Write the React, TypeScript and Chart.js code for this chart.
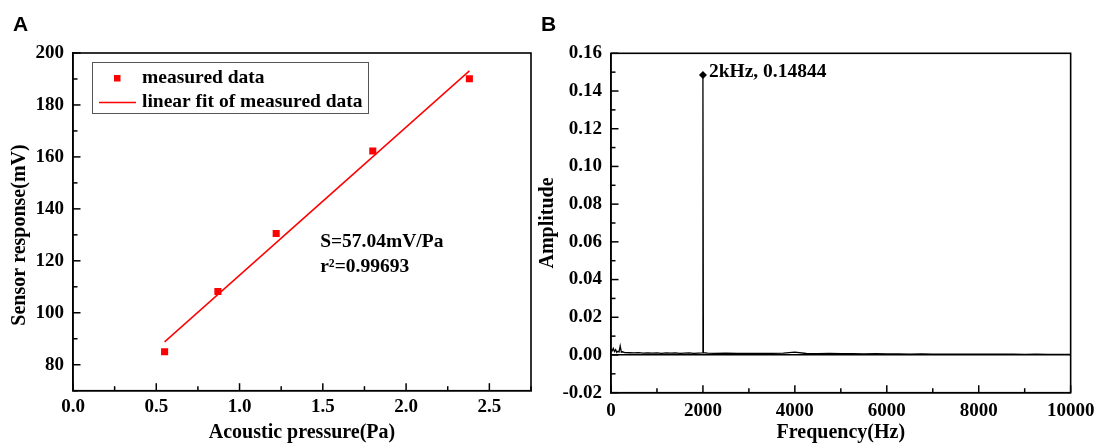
import React, { useEffect, useRef } from "react";
import { Chart, registerables } from "chart.js";

Chart.register(...registerables);

// ---------- Panel A data ----------
const pressurePa = [0.55, 0.87, 1.22, 1.8, 2.38];
const responseMv = [85.0, 108.2, 130.5, 162.3, 190.1];
const fitPressurePa = [0.55, 2.38];
const fitResponseMv = [88.8, 193.1];
const pressureTickLabels = [0, 0.5, 1.0, 1.5, 2.0, 2.5];
const responseTickLabels = [80, 100, 120, 140, 160, 180, 200];
const sensitivityText = "S=57.04mV/Pa";
const r2Text = "r²=0.99693";

// ---------- Panel B data ----------
const freqHz = [
  0, 25, 50, 75, 100, 125, 150, 175, 200, 225, 250,
  300, 400, 500, 600, 700, 800, 900, 1000, 1100, 1200, 1300, 1400, 1500, 1600, 1700, 1800, 1900,
  1990, 2000, 2010, 2100,
  2250, 2500, 2750, 3000, 3250, 3500, 3750, 4000,
  4250, 4500, 4750, 5000, 5250, 5500, 5750, 6000,
  6250, 6500, 6750, 7000, 7250, 7500, 7750, 8000,
  8250, 8500, 8750, 9000, 9250, 9500, 9750, 10000,
];
const amplitude = [
  0.003, 0.0022, 0.0035, 0.0018, 0.0028, 0.0014, 0.002, 0.0016, 0.0048, 0.0015, 0.0017,
  0.0013, 0.0012, 0.0011, 0.0012, 0.001, 0.0011, 0.001, 0.0011, 0.0009, 0.0011, 0.001, 0.0011, 0.0009, 0.001, 0.0011, 0.0009, 0.001,
  0.0011, 0.14844, 0.0012, 0.001,
  0.0009, 0.001, 0.0008, 0.0009, 0.0008, 0.0009, 0.001, 0.0015,
  0.0008, 0.0007, 0.0008, 0.0007, 0.0007, 0.0006, 0.0007, 0.0006,
  0.0006, 0.0005, 0.0006, 0.0005, 0.0005, 0.0005, 0.0004, 0.0005,
  0.0004, 0.0004, 0.0004, 0.0003, 0.0004, 0.0003, 0.0003, 0.0003,
];
const peakFreqHz = [2000];
const peakAmplitude = [0.14844];
const peakLabel = "2kHz, 0.14844";
const freqTickLabels = [0, 2000, 4000, 6000, 8000, 10000];
const ampTickLabels = [-0.02, 0, 0.02, 0.04, 0.06, 0.08, 0.1, 0.12, 0.14, 0.16];

const SERIF = "'Liberation Serif', 'Times New Roman', serif";
const SANS = "'Liberation Sans', Arial, sans-serif";
const tickFont = { family: SERIF, size: 19, weight: "bold" as const };
const titleFont = { family: SERIF, size: 20, weight: "bold" as const };

function tickCb(majors: number[], digits: number) {
  return (value: any) => {
    const v = Number(value);
    return majors.some((m) => Math.abs(m - v) < 1e-9) ? v.toFixed(digits) : "";
  };
}

const framePlugin = {
  id: "frame",
  afterDatasetsDraw(chart: any) {
    const { ctx, chartArea: a } = chart;
    ctx.save();
    ctx.strokeStyle = "#000";
    ctx.lineWidth = 1.6;
    ctx.strokeRect(a.left, a.top, a.right - a.left, a.bottom - a.top);
    // inward tick marks: long for labelled ticks, short for the others
    ctx.lineWidth = 1.5;
    const xs = chart.scales.x;
    const ys = chart.scales.y;
    xs.ticks.forEach((t: any) => {
      const len = t.label !== "" ? 7.5 : 4.5;
      const px = xs.getPixelForValue(t.value);
      ctx.beginPath();
      ctx.moveTo(px, a.bottom);
      ctx.lineTo(px, a.bottom - len);
      ctx.stroke();
    });
    ys.ticks.forEach((t: any) => {
      const len = t.label !== "" ? 7.5 : 4.5;
      const py = ys.getPixelForValue(t.value);
      ctx.beginPath();
      ctx.moveTo(a.left, py);
      ctx.lineTo(a.left + len, py);
      ctx.stroke();
    });
    ctx.restore();
  },
};

function panelLetter(letter: string, x: number) {
  return {
    id: "panelLetter" + letter,
    afterDraw(chart: any) {
      const ctx = chart.ctx;
      ctx.save();
      ctx.fillStyle = "#000";
      ctx.font = `bold 21px ${SANS}`;
      ctx.textBaseline = "alphabetic";
      ctx.textAlign = "left";
      ctx.fillText(letter, x, 31);
      ctx.restore();
    },
  };
}

const legendAPlugin = {
  id: "legendA",
  afterDraw(chart: any) {
    const ctx = chart.ctx;
    const ds = chart.data.datasets;
    ctx.save();
    ctx.strokeStyle = "#555";
    ctx.lineWidth = 1;
    ctx.strokeRect(92.5, 62.5, 276, 51);
    ctx.fillStyle = "#ff0000";
    ctx.fillRect(114, 75, 6.5, 6.5);
    ctx.strokeStyle = "#ff0000";
    ctx.lineWidth = 1.5;
    ctx.beginPath();
    ctx.moveTo(99, 102.5);
    ctx.lineTo(136, 102.5);
    ctx.stroke();
    ctx.fillStyle = "#000";
    ctx.font = `bold 19.5px ${SERIF}`;
    ctx.textBaseline = "middle";
    ctx.fillText(ds[0].label, 142, 78);
    ctx.fillText(ds[1].label, 142, 102);
    ctx.restore();
  },
};

const annotationAPlugin = {
  id: "annotA",
  afterDraw(chart: any) {
    const ctx = chart.ctx;
    const xs = chart.scales.x;
    const ys = chart.scales.y;
    const x = xs.getPixelForValue(1.484);
    ctx.save();
    ctx.fillStyle = "#000";
    ctx.font = `bold 19.5px ${SERIF}`;
    ctx.textBaseline = "middle";
    ctx.fillText(sensitivityText, x, ys.getPixelForValue(127.4));
    ctx.fillText(r2Text, x, ys.getPixelForValue(117.8));
    // y-axis title, placed as in the original figure
    ctx.translate(19.5, 235);
    ctx.rotate(-Math.PI / 2);
    ctx.textAlign = "center";
    ctx.font = `bold 20px ${SERIF}`;
    ctx.fillText("Sensor response(mV)", 0, 0);
    ctx.restore();
  },
};

const peakLabelPlugin = {
  id: "peakLabel",
  afterDraw(chart: any) {
    const ctx = chart.ctx;
    const x = chart.scales.x.getPixelForValue(peakFreqHz[0]);
    const y = chart.scales.y.getPixelForValue(peakAmplitude[0]);
    ctx.save();
    ctx.fillStyle = "#000";
    ctx.font = `bold 19.5px ${SERIF}`;
    ctx.textBaseline = "middle";
    ctx.fillText(peakLabel, x + 6, y - 3.5);
    ctx.restore();
  },
};

function baseX(min: number, max: number, step: number, majors: number[], digits: number, title: string, height: number, pad: number) {
  return {
    type: "linear" as const,
    min,
    max,
    ticks: {
      stepSize: step,
      autoSkip: false,
      maxRotation: 0,
      padding: pad,
      color: "#000",
      font: tickFont,
      callback: tickCb(majors, digits),
    },
    grid: { drawOnChartArea: false, drawTicks: false },
    border: { display: true, color: "#000", width: 1.5 },
    title: { display: true, text: title, color: "#000", font: titleFont, padding: { top: 0, bottom: 1 } },
    afterFit: (s: any) => {
      s.height = height;
    },
  };
}

function baseY(min: number, max: number, step: number, majors: number[], digits: number, title: string, width: number, titlePad: number) {
  return {
    type: "linear" as const,
    min,
    max,
    ticks: {
      stepSize: step,
      autoSkip: false,
      padding: 9,
      color: "#000",
      font: tickFont,
      callback: tickCb(majors, digits),
    },
    grid: { drawOnChartArea: false, drawTicks: false },
    border: { display: true, color: "#000", width: 1.5 },
    title: { display: title !== "", text: title, color: "#000", font: titleFont, padding: { top: titlePad, bottom: 0 } },
    afterFit: (s: any) => {
      s.width = width;
    },
  };
}

export default function App() {
  const refA = useRef<HTMLCanvasElement>(null);
  const refB = useRef<HTMLCanvasElement>(null);

  useEffect(() => {
    const chartA = new Chart(refA.current!, {
      type: "scatter",
      data: {
        datasets: [
          {
            label: "measured data",
            data: pressurePa.map((x, i) => ({ x, y: responseMv[i] })),
            pointStyle: "rect",
            pointRadius: 5,
            backgroundColor: "#ff0000",
            borderColor: "#ff0000",
            borderWidth: 0,
          },
          {
            label: "linear fit of measured data",
            data: fitPressurePa.map((x, i) => ({ x, y: fitResponseMv[i] })),
            showLine: true,
            pointRadius: 0,
            borderColor: "#ff0000",
            borderWidth: 1.5,
          },
        ],
      },
      options: {
        responsive: false,
        animation: false,
        devicePixelRatio: 1,
        layout: { padding: { left: 0, right: 5, top: 53, bottom: 0 } },
        plugins: { legend: { display: false }, tooltip: { enabled: false } },
        scales: {
          x: baseX(0, 2.75, 0.25, pressureTickLabels, 1, "Acoustic pressure(Pa)", 55.3, 5),
          y: baseY(70, 200, 10, responseTickLabels, 0, "", 73, 0),
        },
      } as any,
      plugins: [framePlugin, legendAPlugin, annotationAPlugin, panelLetter("A", 13)],
    });

    const chartB = new Chart(refB.current!, {
      type: "scatter",
      data: {
        datasets: [
          {
            label: "Amplitude",
            data: freqHz.map((x, i) => ({ x, y: amplitude[i] })),
            showLine: true,
            pointRadius: 0,
            borderColor: "#000",
            borderWidth: 1.3,
          },
          {
            label: "Peak",
            data: peakFreqHz.map((x, i) => ({ x, y: peakAmplitude[i] })),
            pointStyle: "rectRot",
            pointRadius: 4,
            backgroundColor: "#000",
            borderColor: "#000",
            borderWidth: 0,
          },
        ],
      },
      options: {
        responsive: false,
        animation: false,
        devicePixelRatio: 1,
        layout: { padding: { left: 0, right: 29, top: 53.3, bottom: 0 } },
        plugins: { legend: { display: false }, tooltip: { enabled: false } },
        scales: {
          x: baseX(0, 10000, 1000, freqTickLabels, 0, "Frequency(Hz)", 53.3, 6.6),
          y: (() => {
            const y: any = baseY(-0.02, 0.16, 0.01, ampTickLabels, 2, "Amplitude", 75, 0);
            y.grid = {
              drawOnChartArea: true,
              drawTicks: false,
              lineWidth: 1.5,
              color: (c: any) => (c.tick && Math.abs(c.tick.value) < 1e-9 ? "#000" : "rgba(0,0,0,0)"),
            };
            return y;
          })(),
        },
      } as any,
      plugins: [framePlugin, peakLabelPlugin, panelLetter("B", 5)],
    });

    return () => {
      chartA.destroy();
      chartB.destroy();
    };
  }, []);

  return (
    <div style={{ position: "absolute", left: 0, top: 0, width: 1101, height: 446, background: "#fff", overflow: "hidden" }}>
      <canvas ref={refA} width={536} height={446} style={{ position: "absolute", left: 0, top: 0, width: 536, height: 446 }} />
      <canvas ref={refB} width={565} height={446} style={{ position: "absolute", left: 536, top: 0, width: 565, height: 446 }} />
    </div>
  );
}
